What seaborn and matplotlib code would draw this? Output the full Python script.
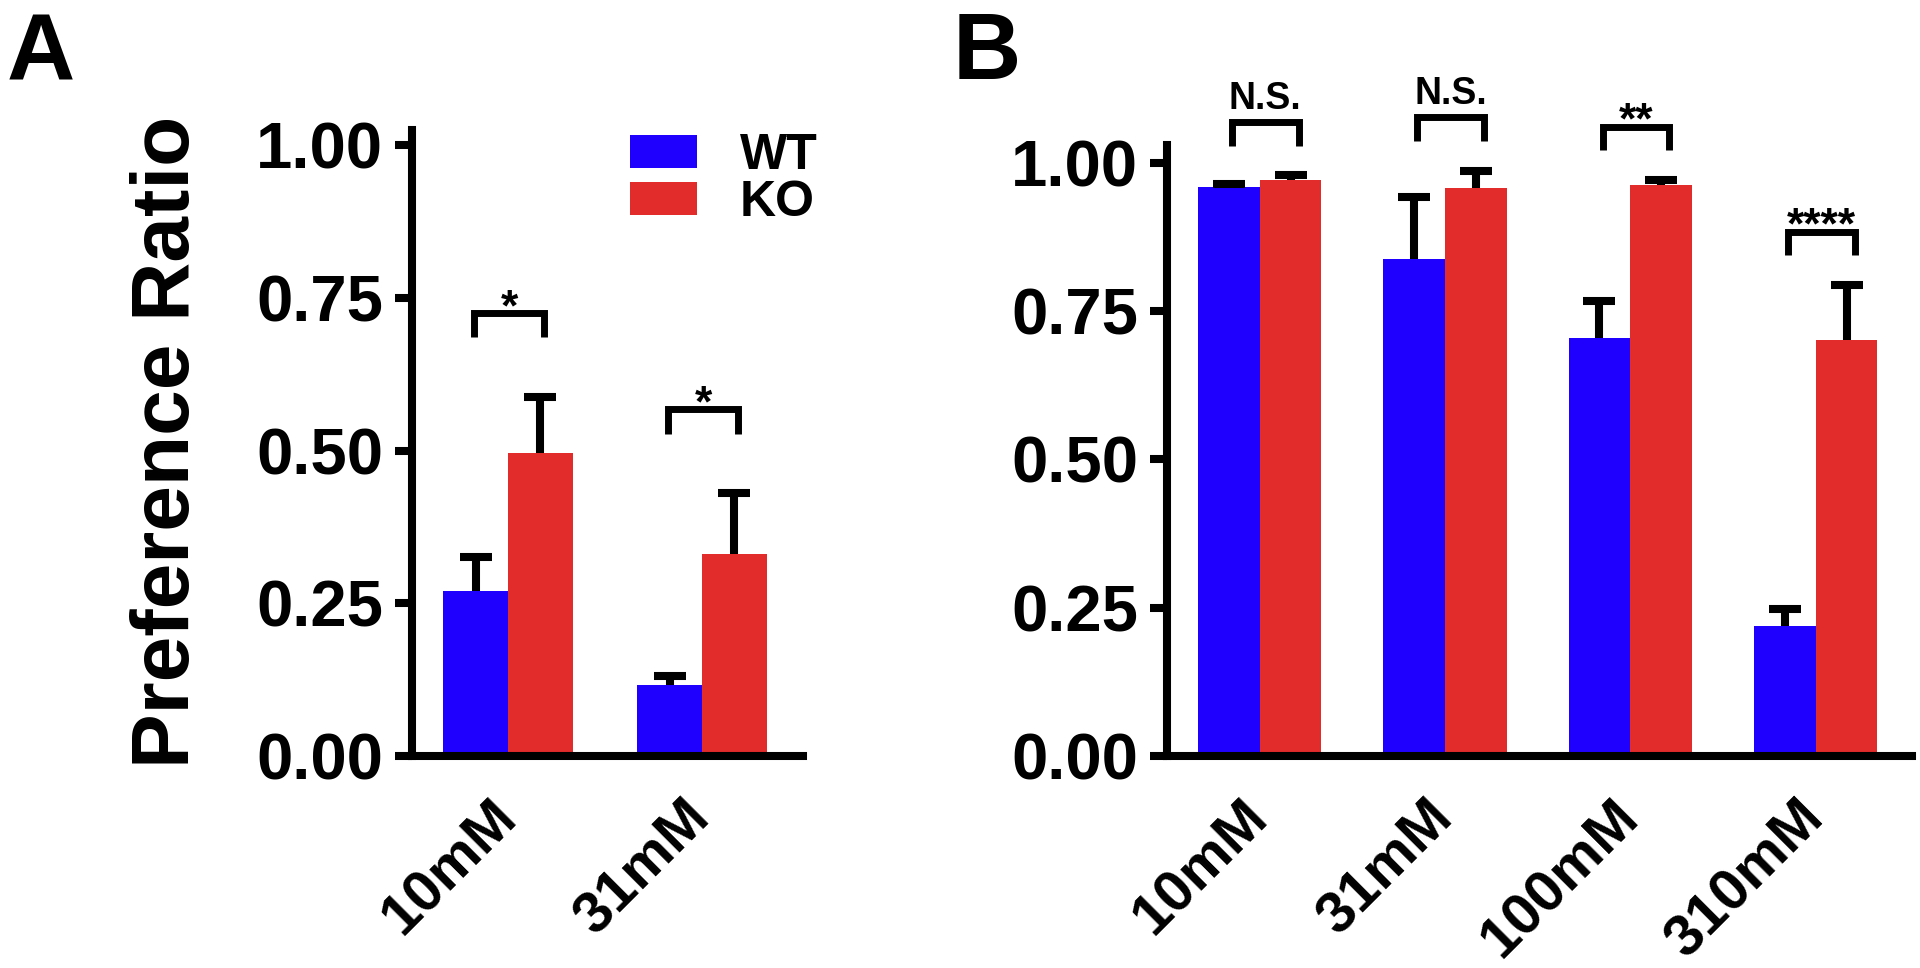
import matplotlib
matplotlib.use("Agg")
import matplotlib.pyplot as plt
from matplotlib.patches import Patch
import numpy as np
import pandas as pd
import seaborn as sns

# Panel A: preference ratio, two concentrations
conc_a = ["10mM", "31mM"]
wt_a = [0.270, 0.117]
wt_a_sem = [0.056, 0.014]
ko_a = [0.496, 0.331]
ko_a_sem = [0.092, 0.099]
sig_a = ["*", "*"]

# Panel B: four concentrations
conc_b = ["10mM", "31mM", "100mM", "310mM"]
wt_b = [0.960, 0.838, 0.705, 0.219]
wt_b_sem = [0.005, 0.105, 0.062, 0.029]
ko_b = [0.971, 0.958, 0.963, 0.701]
ko_b_sem = [0.008, 0.029, 0.008, 0.093]
sig_b = ["N.S.", "N.S.", "**", "****"]

groups = ["WT", "KO"]
colors = ["#1F00FF", "#E22B2B"]
yticks = [0.00, 0.25, 0.50, 0.75, 1.00]

W, H = 1920, 968
LW = 5.8  # axis / error bar line width in pt


def to_frame(conc, wt, ko):
    return pd.DataFrame(
        {
            "conc": list(conc) * 2,
            "ratio": list(wt) + list(ko),
            "geno": ["WT"] * len(conc) + ["KO"] * len(conc),
        }
    )


def draw_panel(ax, conc, wt, wt_sem, ko, ko_sem, sig, xlim, ylim, gap, shift):
    df = to_frame(conc, wt, ko)
    sns.barplot(
        data=df,
        x="conc",
        y="ratio",
        hue="geno",
        order=conc,
        hue_order=groups,
        palette=colors,
        width=0.667,
        gap=0,
        saturation=1,
        errorbar=None,
        linewidth=0,
        legend=False,
        ax=ax,
    )
    # error bars (upper only), matched to bars by x position
    bars = sorted(ax.patches, key=lambda p: p.get_x())
    xs = [p.get_x() + p.get_width() / 2 for p in bars]
    tops = [p.get_height() for p in bars]
    errs = []
    for i in range(len(conc)):
        errs += [wt_sem[i], ko_sem[i]]
    eb = ax.errorbar(
        xs,
        tops,
        yerr=[np.zeros(len(errs)), errs],
        fmt="none",
        ecolor="black",
        elinewidth=LW,
        capsize=11.5,
        capthick=LW,
        zorder=3,
    )
    eb[1][0].set_visible(False)

    # significance brackets
    upper = np.maximum(np.add(wt, wt_sem), np.add(ko, ko_sem))
    for i, lab in enumerate(sig):
        xc = i + shift
        top = upper[i] + gap
        ax.plot(
            [xc - 0.18, xc - 0.18, xc + 0.18, xc + 0.18],
            [top - 0.04, top, top, top - 0.04],
            color="black",
            lw=5,
            clip_on=False,
            solid_joinstyle="miter",
            solid_capstyle="butt",
        )
        if lab.startswith("*"):
            ax.text(xc, top - 0.012, lab, ha="center", va="baseline",
                    fontsize=32, fontweight="bold")
        else:
            ax.text(xc, top + 0.022, lab, ha="center", va="baseline",
                    fontsize=27, fontweight="bold")

    ax.set_xlim(*xlim)
    ax.set_ylim(*ylim)
    ax.set_yticks(yticks)
    ax.set_yticklabels([f"{t:.2f}" for t in yticks])
    ax.set_xlabel("")
    ax.set_ylabel("")
    ax.tick_params(axis="y", length=12.2, width=LW, pad=8.5, labelsize=47,
                   color="black", labelcolor="black")
    ax.tick_params(axis="x", length=0, pad=38, labelsize=42, labelcolor="black")
    for lab in ax.get_xticklabels():
        lab.set_rotation(45)
        lab.set_ha("right")
        lab.set_va("center")
        lab.set_rotation_mode("anchor")
    for s in ["left", "bottom"]:
        ax.spines[s].set_linewidth(LW)
        ax.spines[s].set_color("black")
    sns.despine(ax=ax)


sns.set_style("ticks")
plt.rcParams["font.family"] = ["Liberation Sans", "DejaVu Sans"]
plt.rcParams["font.weight"] = "bold"
plt.rcParams["text.color"] = "black"

fig = plt.figure(figsize=(W / 100, H / 100), dpi=100)
ax_a = fig.add_axes([412 / W, 212 / H, 391 / W, 626 / H])
ax_b = fig.add_axes([1167 / W, 212 / H, 745 / W, 611 / H])

draw_panel(ax_a, conc_a, wt_a, wt_a_sem, ko_a, ko_a_sem, sig_a,
           (-0.495, 1.52), (0, 1.025), 0.138, 0.005)
draw_panel(ax_b, conc_b, wt_b, wt_b_sem, ko_b, ko_b_sem, sig_b,
           (-0.50, 3.52), (0, 1.03), 0.09, 0.03)

fig.text(168 / W, 1 - 442 / H, "Preference Ratio", rotation=90,
         ha="center", va="center", fontsize=59, fontweight="bold")
fig.text(7 / W, 1 - 80 / H, "A", fontsize=68, fontweight="bold", va="baseline")
fig.text(953 / W, 1 - 79 / H, "B", fontsize=68, fontweight="bold", va="baseline")

handles = [Patch(facecolor=c, edgecolor="none") for c in colors]
fig.legend(
    handles,
    groups,
    loc="upper left",
    bbox_to_anchor=(630 / W, 1 - 133 / H),
    frameon=False,
    fontsize=36,
    handlelength=1.34,
    handleheight=0.64,
    handletextpad=0.85,
    labelspacing=0.03,
    borderpad=0,
    borderaxespad=0,
)

fig.savefig("out.png", dpi=100)
